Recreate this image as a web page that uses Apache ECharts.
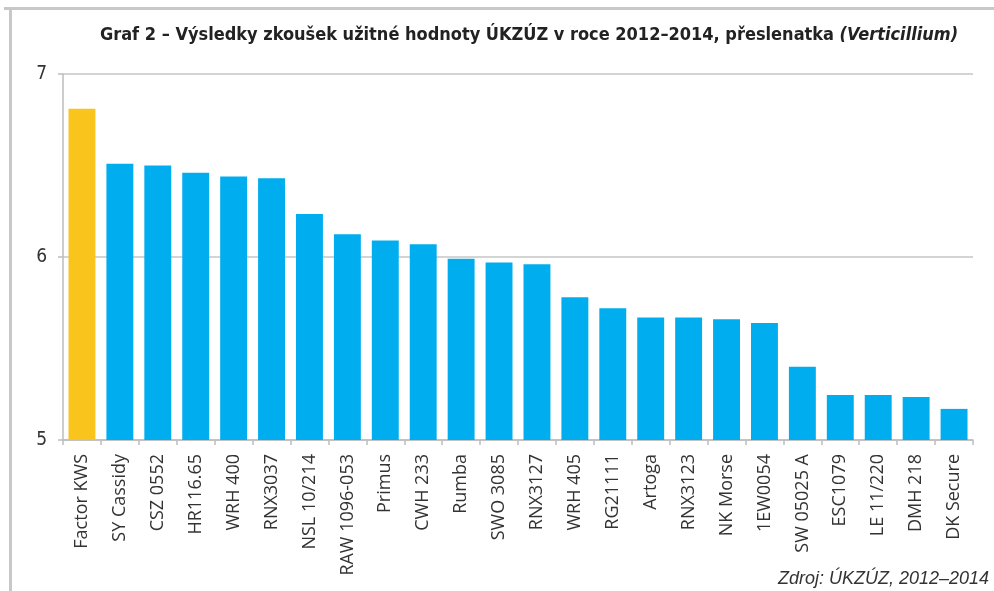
<!DOCTYPE html>
<html><head><meta charset="utf-8">
<script src="https://cdn.jsdelivr.net/npm/echarts@6/dist/echarts.min.js"></script>
<style>html,body{margin:0;padding:0;background:#fff}#c{width:994px;height:591px}</style>
</head><body><div id="c"></div>
<script>
const categories = ['Factor KWS','SY Cassidy','CSZ 0552','HR116.65','WRH 400','RNX3037','NSL 10/214','RAW 1096-053','Primus','CWH 233','Rumba','SWO 3085','RNX3127','WRH 405','RG21111','Artoga','RNX3123','NK Morse','1EW0054','SW 05025 A','ESC1079','LE 11/220','DMH 218','DK Secure'];
const values = [6.81,6.51,6.50,6.46,6.44,6.43,6.235,6.125,6.09,6.07,5.99,5.97,5.96,5.78,5.72,5.67,5.67,5.66,5.64,5.40,5.246,5.246,5.235,5.17];
const yTicks = [5,6,7];
const highlight = 'Factor KWS';

const chart = echarts.init(document.getElementById('c'), null, {renderer:'canvas'});
chart.setOption({
  animation:false,
  title:{
    text:'{b|Graf 2 – Výsledky zkoušek užitné hodnoty ÚKZÚZ v roce 2012–2014, přeslenatka }{i|(Verticillium)}',
    left:524, top:21, textAlign:'center',
    textStyle:{rich:{
      b:{fontFamily:'DejaVu Sans Condensed',fontWeight:'bold',fontSize:18,color:'#222'},
      i:{fontFamily:'DejaVu Sans Condensed',fontWeight:'bold',fontStyle:'italic',fontSize:18,color:'#222'}
    }}
  },
  grid:{left:63,right:21,top:74,bottom:151,containLabel:false},
  xAxis:{
    type:'category', data:categories,
    axisLine:{lineStyle:{color:'#bdbdbd',width:1.5}},
    axisTick:{show:true,length:5,lineStyle:{color:'#bdbdbd',width:1.5}},
    axisLabel:{rotate:90,interval:0,margin:14,fontFamily:'Open Sans',fontSize:18,color:'#333'}
  },
  yAxis:{
    type:'value', min:yTicks[0], max:yTicks[yTicks.length-1], interval:1,
    axisLine:{show:true,lineStyle:{color:'#bdbdbd',width:1.5}},
    axisTick:{show:true,length:5,lineStyle:{color:'#bdbdbd',width:1.5}},
    axisLabel:{margin:16,fontFamily:'DejaVu Sans Condensed',fontSize:19,color:'#333'},
    splitLine:{lineStyle:{color:'#c6c6c6',width:1.5}}
  },
  series:[{
    type:'bar', barWidth:'71%',
    data:values.map((v,i)=>({value:v,itemStyle:{color:categories[i]===highlight?'#F9C41C':'#00AEEF'}}))
  }],
  graphic:[
    {type:'line',shape:{x1:4,y1:8.5,x2:994,y2:8.5},style:{stroke:'#c8c8cc',lineWidth:3}},
    {type:'line',shape:{x1:10.5,y1:8,x2:10.5,y2:591},style:{stroke:'#c8c8cc',lineWidth:3}},
    {type:'text',right:5,top:570,style:{text:'Zdroj: ÚKZÚZ, 2012–2014',font:'italic 18px "Liberation Sans"',fill:'#333'}}
  ]
});
</script></body></html>
